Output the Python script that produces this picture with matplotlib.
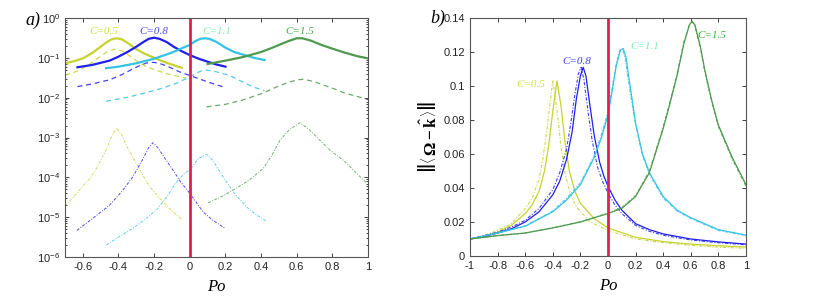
import numpy as np
import matplotlib
matplotlib.use('Agg')
import matplotlib.pyplot as plt
from matplotlib.ticker import FixedLocator, FixedFormatter, LogLocator, NullFormatter

# colores de cada C
c_yel = '#c6d22e'
c_blu = '#1f1fee'
c_cya = '#35c3e3'
c_grn = '#4f9a4f'
c_red = '#ea1c4f'

labels_C = ['C=0.5', 'C=0.8', 'C=1.1', 'C=1.5']
label_cols_a = ['#c8e63c', '#4a4af0', '#80f0b0', '#40b040']

# ---------------- panel a) (log) ----------------
# solid curves
a_sol_x05 = [-0.7, -0.65, -0.6, -0.55, -0.5, -0.47, -0.44, -0.41, -0.38, -0.35, -0.3, -0.25, -0.2,
             -0.13, -0.045]
a_sol_y05 = [0.073, 0.082, 0.097, 0.13, 0.19, 0.24, 0.29, 0.31, 0.29, 0.24, 0.165, 0.125, 0.10,
             0.075, 0.056]
a_sol_x08 = [-0.63, -0.55, -0.45, -0.4, -0.35, -0.3, -0.26, -0.23, -0.2, -0.17, -0.13, -0.09,
             -0.05, 0.0, 0.05, 0.1, 0.15, 0.2]
a_sol_y08 = [0.058, 0.066, 0.085, 0.107, 0.14, 0.19, 0.25, 0.30, 0.32, 0.30, 0.25, 0.19, 0.15,
             0.117, 0.095, 0.080, 0.068, 0.060]
a_sol_x11 = [-0.47, -0.4, -0.3, -0.2, -0.1, -0.05, 0.0, 0.03, 0.06, 0.085, 0.11, 0.15, 0.2, 0.25,
             0.3, 0.36, 0.42]
a_sol_y11 = [0.055, 0.060, 0.073, 0.095, 0.135, 0.17, 0.21, 0.26, 0.30, 0.31, 0.30, 0.25, 0.18,
             0.14, 0.12, 0.10, 0.088]
a_sol_x15 = [0.1, 0.2, 0.3, 0.4, 0.45, 0.5, 0.55, 0.6, 0.63, 0.68, 0.74, 0.8, 0.87, 0.94, 1.0]
a_sol_y15 = [0.070, 0.085, 0.105, 0.14, 0.17, 0.21, 0.26, 0.31, 0.31, 0.27, 0.21, 0.17, 0.135,
             0.11, 0.097]

# dashed curves
a_das_x05 = [-0.7, -0.65, -0.6, -0.55, -0.5, -0.46, -0.42, -0.38, -0.34, -0.3, -0.25, -0.19,
             -0.12, -0.05, -0.02]
a_das_y05 = [0.037, 0.043, 0.055, 0.075, 0.11, 0.145, 0.166, 0.15, 0.115, 0.085, 0.062, 0.049,
             0.039, 0.033, 0.031]
a_das_x08 = [-0.63, -0.55, -0.45, -0.38, -0.33, -0.28, -0.24, -0.2, -0.16, -0.12, -0.06, 0.0,
             0.05, 0.1, 0.15, 0.2]
a_das_y08 = [0.019, 0.022, 0.028, 0.038, 0.050, 0.064, 0.075, 0.077, 0.070, 0.060, 0.045, 0.036,
             0.030, 0.025, 0.021, 0.018]
a_das_x11 = [-0.47, -0.35, -0.26, -0.15, -0.075, 0.0, 0.04, 0.07, 0.094, 0.13, 0.18, 0.225, 0.28,
             0.35, 0.42]
a_das_y11 = [0.0081, 0.0102, 0.0128, 0.0175, 0.023, 0.033, 0.042, 0.048, 0.049, 0.047, 0.041,
             0.036, 0.027, 0.019, 0.015]
a_das_x15 = [0.094, 0.2, 0.3, 0.41, 0.48, 0.54, 0.6, 0.64, 0.7, 0.76, 0.805, 0.87, 0.93, 0.99]
a_das_y15 = [0.0059, 0.0068, 0.0088, 0.013, 0.018, 0.023, 0.028, 0.029, 0.025, 0.020, 0.017,
             0.013, 0.011, 0.0093]

# dash-dot curves (exponent of 10)
a_dd_x05 = [-0.7, -0.65, -0.6, -0.56, -0.52, -0.47, -0.44, -0.41, -0.38, -0.35, -0.3, -0.243,
            -0.2, -0.15, -0.1, -0.047]
a_dd_e05 = [-4.72, -4.48, -4.22, -4.03, -3.75, -3.32, -2.98, -2.76, -2.95, -3.25, -3.65, -4.11,
            -4.37, -4.62, -4.84, -5.05]
a_dd_x08 = [-0.633, -0.55, -0.45, -0.38, -0.32, -0.27, -0.23, -0.206, -0.18, -0.14, -0.094,
            -0.05, 0.0, 0.075, 0.13, 0.197]
a_dd_e08 = [-5.33, -5.05, -4.70, -4.35, -3.99, -3.6, -3.25, -3.13, -3.25, -3.52, -3.82, -4.12,
            -4.40, -4.87, -5.08, -5.28]
a_dd_x11 = [-0.468, -0.4, -0.32, -0.25, -0.187, -0.13, -0.08, -0.03, 0.0, 0.047, 0.094, 0.13,
            0.187, 0.25, 0.318, 0.37, 0.427]
a_dd_e11 = [-5.70, -5.5, -5.28, -5.05, -4.82, -4.5, -4.15, -3.9, -3.82, -3.53, -3.42, -3.58,
            -3.99, -4.4, -4.74, -4.93, -5.09]
a_dd_x15 = [0.103, 0.18, 0.243, 0.33, 0.412, 0.46, 0.506, 0.56, 0.618, 0.67, 0.73, 0.787, 0.861,
            0.93, 0.993]
a_dd_e15 = [-4.64, -4.48, -4.32, -4.08, -3.78, -3.45, -3.07, -2.8, -2.63, -2.8, -3.07, -3.32,
            -3.57, -3.87, -4.15]

# ---------------- panel b) (linear) ----------------
b_sol_x05 = [-1, -0.9, -0.8, -0.7, -0.6, -0.55, -0.5, -0.46, -0.43, -0.4, -0.37, -0.34, -0.31,
             -0.28, -0.24, -0.2, -0.1, 0, 0.2, 0.4, 0.6, 0.8, 1]
b_sol_y05 = [0.010, 0.0115, 0.014, 0.018, 0.025, 0.030, 0.038, 0.050, 0.065, 0.085, 0.103, 0.088,
             0.066, 0.050, 0.038, 0.031, 0.022, 0.0165, 0.011, 0.0085, 0.007, 0.006, 0.0053]
b_dd_x05 = [-1, -0.9, -0.8, -0.7, -0.6, -0.55, -0.5, -0.47, -0.44, -0.42, -0.40, -0.37, -0.34,
            -0.31, -0.27, -0.23, -0.13, -0.05, 0, 0.2, 0.4, 0.6, 0.8, 1]
b_dd_y05 = [0.010, 0.012, 0.015, 0.019, 0.028, 0.034, 0.045, 0.058, 0.076, 0.090, 0.103, 0.086,
            0.064, 0.048, 0.036, 0.029, 0.020, 0.017, 0.015, 0.010, 0.0078, 0.0063, 0.0052, 0.0045]
b_sol_x08 = [-1, -0.9, -0.8, -0.7, -0.6, -0.5, -0.4, -0.35, -0.3, -0.26, -0.23, -0.2, -0.18, -0.16,
             -0.13, -0.1, -0.06, -0.03, 0, 0.05, 0.1, 0.2, 0.3, 0.4, 0.6, 0.8, 1]
b_sol_y08 = [0.010, 0.0115, 0.0135, 0.016, 0.020, 0.026, 0.036, 0.044, 0.057, 0.073, 0.092, 0.106,
             0.111, 0.106, 0.088, 0.071, 0.055, 0.047, 0.041, 0.033, 0.027, 0.019, 0.0155, 0.0130,
             0.0100, 0.0083, 0.0070]
b_dd_x08 = [-1, -0.9, -0.8, -0.7, -0.6, -0.5, -0.4, -0.35, -0.3, -0.27, -0.24, -0.215, -0.195, -0.175,
            -0.145, -0.115, -0.075, -0.04, 0, 0.05, 0.1, 0.2, 0.3, 0.4, 0.6, 0.8, 1]
b_dd_y08 = [0.010, 0.012, 0.014, 0.017, 0.021, 0.028, 0.039, 0.049, 0.063, 0.078, 0.095, 0.107,
            0.111, 0.104, 0.085, 0.068, 0.052, 0.044, 0.037, 0.030, 0.025, 0.018, 0.0145, 0.0122,
            0.0094, 0.0078, 0.0066]
b_sol_x11 = [-1, -0.8, -0.6, -0.4, -0.3, -0.2, -0.1, -0.05, 0, 0.03, 0.06, 0.09, 0.11, 0.13, 0.16,
             0.2, 0.25, 0.3, 0.4, 0.5, 0.6, 0.8, 1]
b_sol_y11 = [0.010, 0.0135, 0.0175, 0.026, 0.033, 0.042, 0.058, 0.069, 0.083, 0.097, 0.112, 0.121,
             0.122, 0.117, 0.100, 0.078, 0.060, 0.049, 0.035, 0.027, 0.0225, 0.0155, 0.0123]
b_dd_x11 = [-1, -0.8, -0.6, -0.4, -0.3, -0.2, -0.1, -0.05, 0, 0.03, 0.06, 0.085, 0.105, 0.125, 0.155,
            0.2, 0.25, 0.3, 0.4, 0.5, 0.6, 0.8, 1]
b_dd_y11 = [0.010, 0.0137, 0.0178, 0.0265, 0.034, 0.043, 0.059, 0.071, 0.085, 0.099, 0.113, 0.121,
            0.122, 0.116, 0.099, 0.077, 0.059, 0.048, 0.034, 0.0265, 0.022, 0.015, 0.012]
b_sol_x15 = [-1, -0.8, -0.6, -0.4, -0.2, 0, 0.1, 0.2, 0.3, 0.4, 0.45, 0.5, 0.55, 0.59, 0.61, 0.63,
             0.67, 0.7, 0.75, 0.8, 0.9, 1]
b_sol_y15 = [0.010, 0.012, 0.0135, 0.0165, 0.020, 0.0250, 0.028, 0.035, 0.049, 0.075, 0.090, 0.106,
             0.125, 0.136, 0.138, 0.136, 0.123, 0.110, 0.092, 0.077, 0.058, 0.042]
b_dd_x15 = [-1, -0.8, -0.6, -0.4, -0.2, 0, 0.1, 0.2, 0.3, 0.4, 0.45, 0.5, 0.55, 0.59, 0.61, 0.63,
            0.67, 0.7, 0.75, 0.8, 0.9, 1]
b_dd_y15 = [0.010, 0.012, 0.0136, 0.0166, 0.0202, 0.0252, 0.0285, 0.0355, 0.050, 0.076, 0.091, 0.107,
            0.126, 0.136, 0.138, 0.135, 0.122, 0.109, 0.091, 0.076, 0.057, 0.041]

a_xticks = [-0.6, -0.4, -0.2, 0, 0.2, 0.4, 0.6, 0.8, 1]
a_xticklabels = ['-0.6', '-0.4', '-0.2', '0', '0.2', '0.4', '0.6', '0.8', '1']
b_xticks = [-1, -0.8, -0.6, -0.4, -0.2, 0, 0.2, 0.4, 0.6, 0.8, 1]
b_xticklabels = ['-1', '-0.8', '-0.6', '-0.4', '-0.2', '0', '0.2', '0.4', '0.6', '0.8', '1']
b_yticks = [0, 0.02, 0.04, 0.06, 0.08, 0.1, 0.12, 0.14]
b_yticklabels = ['0', '0.02', '0.04', '0.06', '0.08', '0.1', '0.12', '0.14']

plt.rcParams['font.family'] = ['Liberation Sans', 'DejaVu Sans']
plt.rcParams['mathtext.fontset'] = 'custom'
plt.rcParams['mathtext.rm'] = 'Liberation Sans'
plt.rcParams['mathtext.it'] = 'Liberation Serif:italic'
plt.rcParams['mathtext.bf'] = 'Liberation Serif:bold'

fig = plt.figure(figsize=(8.17, 2.96), dpi=100)
axa = fig.add_axes([65 / 817, 1 - 257 / 296, 303 / 817, 239 / 296])
axb = fig.add_axes([470 / 817, 1 - 256 / 296, 276 / 817, 238 / 296])

serif_it = dict(family='Liberation Serif', style='italic')
spine_col = '#555555'

# panel a
cols = [c_yel, c_blu, c_cya, c_grn]
sol = [(a_sol_x05, a_sol_y05), (a_sol_x08, a_sol_y08), (a_sol_x11, a_sol_y11), (a_sol_x15, a_sol_y15)]
das = [(a_das_x05, a_das_y05), (a_das_x08, a_das_y08), (a_das_x11, a_das_y11), (a_das_x15, a_das_y15)]
ddc = [(a_dd_x05, a_dd_e05), (a_dd_x08, a_dd_e08), (a_dd_x11, a_dd_e11), (a_dd_x15, a_dd_e15)]
for col, (xs, ys), (xd, yd), (xe, ee) in zip(cols, sol, das, ddc):
    axa.plot(xs, ys, color=col, lw=1.6, solid_joinstyle='round')
    axa.plot(xd, yd, color=col, lw=0.9, ls=(0, (4, 3)), alpha=0.85)
    axa.plot(xe, 10.0 ** np.array(ee), color=col, lw=0.7, ls=(0, (3, 1.5, 1, 1.5)), alpha=0.8)
axa.axvline(0, color=c_red, lw=2)
axa.set_yscale('log')
axa.set_ylim(1e-6, 1)
axa.set_xlim(-0.7, 1)
axa.xaxis.set_major_locator(FixedLocator(a_xticks))
axa.xaxis.set_major_formatter(FixedFormatter(a_xticklabels))
axa.yaxis.set_major_locator(LogLocator(base=10, numticks=10))
axa.yaxis.set_minor_locator(LogLocator(base=10, subs=np.arange(2, 10), numticks=10))
axa.yaxis.set_minor_formatter(NullFormatter())

label_pos_a = [(-0.48, 0.45), (-0.2, 0.47), (0.15, 0.45), (0.62, 0.47)]
for lab, (x, y), col in zip(labels_C, label_pos_a, label_cols_a):
    axa.text(x, y, lab, color=col, fontsize=8, ha='center', va='center', **serif_it)

# panel b
solb = [(b_sol_x05, b_sol_y05), (b_sol_x08, b_sol_y08), (b_sol_x11, b_sol_y11), (b_sol_x15, b_sol_y15)]
ddb = [(b_dd_x05, b_dd_y05), (b_dd_x08, b_dd_y08), (b_dd_x11, b_dd_y11), (b_dd_x15, b_dd_y15)]
for col, (xs, ys), (xd, yd) in zip(cols, solb, ddb):
    axb.plot(xs, ys, color=col, lw=0.9, solid_joinstyle='round')
    axb.plot(xd, yd, color=col, lw=0.8, ls=(0, (3, 1.5, 1, 1.5)), alpha=0.85)
axb.axvline(0, color=c_red, lw=2)
axb.set_xlim(-1, 1)
axb.set_ylim(0, 0.14)
axb.xaxis.set_major_locator(FixedLocator(b_xticks))
axb.xaxis.set_major_formatter(FixedFormatter(b_xticklabels))
axb.yaxis.set_major_locator(FixedLocator(b_yticks))
axb.yaxis.set_major_formatter(FixedFormatter(b_yticklabels))

label_pos_b = [(-0.56, 0.101), (-0.225, 0.1147), (0.27, 0.123), (0.75, 0.130)]
label_cols_b = ['#c8e63c', '#4040e0', '#80f0b0', '#30b030']
for lab, (x, y), col in zip(labels_C, label_pos_b, label_cols_b):
    axb.text(x, y, lab, color=col, fontsize=8, ha='center', va='center', **serif_it)

axb.set_ylabel(r'$\left\|\left\langle\, \mathbf{\Omega} - \hat{\mathbf{k}}\, \right\rangle\right\|$',
               fontsize=12, labelpad=3)

for ax in (axa, axb):
    ax.tick_params(which='both', direction='in', top=True, right=True, labelsize=8,
                   colors='#222222', length=3, width=0.6)
    ax.tick_params(which='minor', length=1.5)
    for sp in ax.spines.values():
        sp.set_color(spine_col)
        sp.set_linewidth(0.8)
    ax.set_xlabel('Po', fontsize=12, labelpad=5, **serif_it)

fig.text(25 / 817, 1 - 20 / 296, 'a)', fontsize=13, va='center', **serif_it)
fig.text(430 / 817, 1 - 18 / 296, 'b)', fontsize=13, va='center', **serif_it)

fig.savefig('out.png', dpi=100)
